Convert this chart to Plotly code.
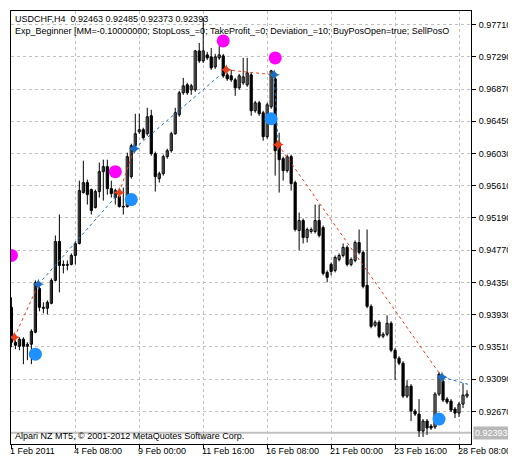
import plotly.graph_objects as go

opens = [94026,93571,93519,93610,93519,93545,93701,94273,94026,94013,94078,94377,94884,94585,94572,94585,94702,94858,95521,95651,
95560,95326,95534,95794,95859,95573,95456,95469,95339,95339,95729,96132,96314,96340,96288,96522,96028,95703,95768,95989,
96067,96288,96535,96821,96925,96860,96860,97367,97237,97315,97289,97159,97276,97302,97055,97042,96990,96886,96951,96925,
97055,96587,96691,96561,96249,96639,97003,96171,95963,95807,95989,95651,95027,95157,94936,95014,95014,95157,95066,94481,
94585,94507,94650,94702,94806,94585,94637,94871,94741,94312,94039,93792,93831,93649,93675,93818,93467,93363,93298,92869,
92999,92674,92635,92414,92544,92479,92466,92895,93064,92830,92804,92700,92648,92765,92869]
highs = [94156,93597,93636,93636,93571,93740,94377,94299,94091,94117,94403,94962,95235,94637,94637,94728,94884,95677,95937,95690,
95573,95560,95911,95950,95950,95677,95573,95508,95586,96041,96158,96548,96548,96366,96626,96600,96054,95794,96015,96093,
96314,96626,96847,97016,96951,96938,97380,97471,97796,97354,97406,97328,97432,97328,97081,97120,97016,97068,97276,97276,
97081,96717,96717,96587,96691,97120,97029,96301,95989,96015,96015,95677,95261,95183,95066,95066,95365,95365,95092,94507,
94611,94702,94728,94858,94832,94676,94897,95040,94767,95040,94065,93857,93857,93701,93922,93844,93493,93389,93324,93077,
93025,92700,92830,92570,92570,92505,92921,93181,93090,92856,92830,92726,92791,93038,92947]
lows = [93506,93480,93467,93285,93337,93285,93688,93974,93948,93935,94065,94364,94221,94468,94507,94572,94585,94845,95508,95365,
95235,95313,95456,95417,95495,95456,95365,95326,95235,95326,95703,96106,96288,96210,96262,96002,95534,95651,95742,95963,
96041,96275,96509,96795,96795,96795,96834,97211,97211,97250,97120,97133,97250,97016,96977,96964,96782,96860,96925,96899,
96522,96561,96522,96197,96223,96613,95742,95521,95677,95781,95547,95014,94767,94858,94871,94988,94988,94936,94442,94351,
94442,94481,94624,94676,94559,94559,94611,94715,94273,94013,93753,93766,93623,93623,93649,93441,93077,93272,92843,92843,
92544,92609,92336,92336,92362,92427,92440,92869,92791,92765,92661,92583,92596,92713,92843]
closes = [93571,93532,93610,93519,93545,93714,94351,94026,94013,94091,94377,94884,94572,94572,94585,94702,94858,95547,95651,95495,
95287,95534,95794,95859,95573,95508,95547,95339,95333,95989,96132,96288,96340,96236,96509,96028,95729,95768,95989,96067,
96288,96561,96821,96912,96821,96912,97367,97237,97367,97276,97146,97289,97315,97042,97003,96990,96886,97042,97029,97081,
96587,96691,96548,96249,96665,97107,96067,95950,95807,95989,95638,95040,95157,94936,95040,95040,95157,94962,94468,94416,
94494,94676,94702,94806,94585,94650,94871,94741,94299,94039,93779,93831,93649,93675,93818,93467,93363,93298,92869,92999,
92674,92635,92414,92544,92453,92453,92895,93155,92817,92791,92687,92648,92765,92882,92895]

sell_dot_bar = [0, 26, 53, 66]
sell_dot_price = [94702, 95794, 97497, 97276]
buy_dot_bar = [6, 30, 65, 107]
buy_dot_price = [93415, 95430, 96483, 92570]

trade_bar = [0.75, 6.75, 27, 30.75, 53.75, 65.75, 66.75, 107.75, 115]
trade_price = [93636, 94325, 95521, 96093, 97120, 97055, 96145, 93116, 93012]
trade_side = ["sell", "buy", "sell", "buy", "sell", "buy", "sell", "buy"]

ytick_vals = [97710, 97290, 96870, 96450, 96030, 95610, 95190, 94770, 94350, 93930, 93510, 93090, 92670]
xtick_bars = [0, 16, 32, 48, 64, 80, 96, 112]
xtick_text = ["1 Feb 2011", "4 Feb 08:00", "9 Feb 00:00", "11 Feb 16:00", "16 Feb 08:00", "21 Feb 00:00", "23 Feb 16:00", "28 Feb 08:00"]
last_price = 92393

S = 1e5
fig = go.Figure()

wx, wy = [], []
for i in range(len(opens)):
    wx += [i, i, None]
    wy += [lows[i]/S, highs[i]/S, None]
fig.add_trace(go.Scatter(x=wx, y=wy, mode="lines", line=dict(color="black", width=1),
                         showlegend=False, hoverinfo="skip"))
for bull in (True, False):
    idx = [i for i in range(len(opens)) if (closes[i] >= opens[i]) == bull]
    fig.add_trace(go.Bar(
        x=idx, base=[min(opens[i], closes[i])/S for i in idx],
        y=[max(abs(closes[i]-opens[i]), 8)/S for i in idx], width=0.55,
        marker=dict(color="white" if bull else "black", line=dict(color="black", width=1)),
        showlegend=False, hoverinfo="skip"))

for k in range(len(trade_side)):
    col = "#e8401c" if trade_side[k] == "sell" else "#1a6fc4"
    fig.add_trace(go.Scatter(x=trade_bar[k:k+2], y=[v/S for v in trade_price[k:k+2]], mode="lines",
                             line=dict(color=col, width=1, dash="dot"), showlegend=False, hoverinfo="skip"))
for k in range(len(trade_side)):
    col = "#e8401c" if trade_side[k] == "sell" else "#1a6fc4"
    fig.add_trace(go.Scatter(x=[trade_bar[k]], y=[trade_price[k]/S], mode="markers",
                             marker=dict(symbol="star-diamond", size=8, color=col), showlegend=False, hoverinfo="skip"))

fig.add_trace(go.Scatter(x=sell_dot_bar, y=[v/S for v in sell_dot_price], mode="markers",
                         marker=dict(size=13, color="#ff00ff"), showlegend=False, hoverinfo="skip"))
fig.add_trace(go.Scatter(x=buy_dot_bar, y=[v/S for v in buy_dot_price], mode="markers",
                         marker=dict(size=13, color="#1e90ff"), showlegend=False, hoverinfo="skip"))

fig.add_shape(type="line", xref="paper", x0=0, x1=1, y0=last_price/S, y1=last_price/S,
              line=dict(color="#c0c0c0", width=2), layer="below")

font = dict(family="Liberation Sans", size=9, color="black")
fig.update_layout(
    width=516, height=457, margin=dict(l=3, r=53, t=3, b=21),
    paper_bgcolor="white", plot_bgcolor="white", font=font, barmode="overlay",
    xaxis=dict(range=[-0.1, 115], tickvals=xtick_bars, showticklabels=False, ticks="outside", ticklen=4,
               tickcolor="black", showgrid=True, gridcolor="#c0c0c0", griddash="3px,3px", gridwidth=1,
               showline=True, linecolor="black", mirror=True, zeroline=False),
    yaxis=dict(range=[0.92245, 0.97887], side="right", tickvals=[v/S for v in ytick_vals],
               ticktext=["%.5f" % (v/S) for v in ytick_vals], ticks="outside", ticklen=4, tickcolor="black",
               ticklabelstandoff=1,
               showgrid=True, gridcolor="#c0c0c0", griddash="3px,3px", showline=True, linecolor="black",
               mirror=True, zeroline=False),
)
for b, t in zip(xtick_bars, xtick_text):
    fig.add_annotation(x=b, y=0, xref="x", yref="paper", yshift=-1, text=t, showarrow=False,
                       xanchor="left", yanchor="top", font=font, xshift=-2, borderpad=0)
fig.add_annotation(x=0.005, y=1, xref="paper", yref="paper", yshift=-1, showarrow=False, xanchor="left", yanchor="top",
                   align="left", font=font,
                   text="USDCHF,H4  0.92463 0.92485 0.92373 0.92393<br>Exp_Beginner [MM=-0.10000000; StopLoss_=0; TakeProfit_=0; Deviation_=10; BuyPosOpen=true; SellPosO")
fig.add_annotation(x=0.005, y=0, xref="paper", yref="paper", yshift=1, showarrow=False, xanchor="left", yanchor="bottom",
                   font=font, text="Alpari NZ MT5, © 2001-2012 MetaQuotes Software Corp.")
fig.add_annotation(x=1, y=last_price/S, xref="paper", yref="y", xshift=2, showarrow=False, xanchor="left",
                   yanchor="middle", text="0.92393", font=dict(family="Liberation Sans", size=9, color="white"),
                   bgcolor="#b8b8b8", borderpad=1)
fig.write_html("out.html")
